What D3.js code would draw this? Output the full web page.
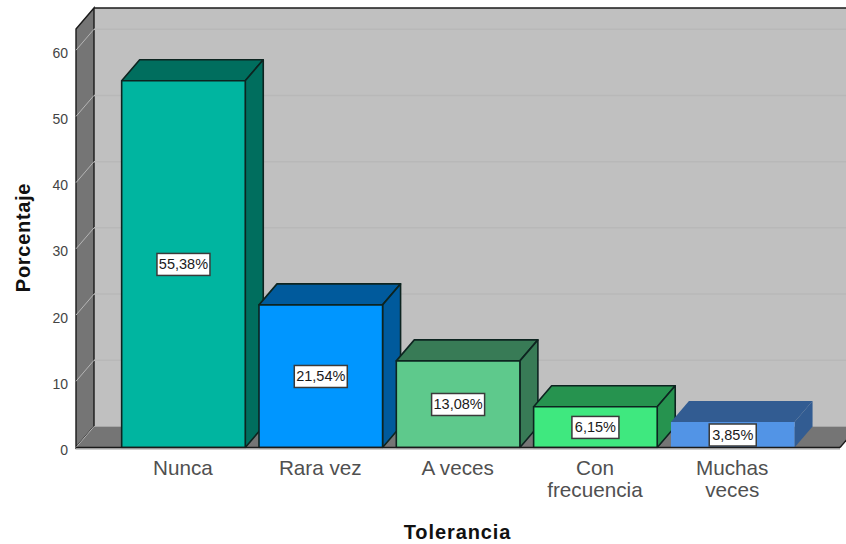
<!DOCTYPE html>
<html><head><meta charset="utf-8">
<script src="https://cdn.jsdelivr.net/npm/d3@7"></script>
<style>html,body{margin:0;padding:0;background:#fff;overflow:hidden}svg{display:block;font-family:"Liberation Sans",Arial,sans-serif}</style>
</head><body><svg id="c" width="846" height="544"></svg>
<script>
const categories = ["Nunca","Rara vez","A veces","Con frecuencia","Muchas veces"];
const categoryLines = [["Nunca"],["Rara vez"],["A veces"],["Con","frecuencia"],["Muchas","veces"]];
const values = [55.38,21.54,13.08,6.15,3.85];
const valueLabels = ["55,38%","21,54%","13,08%","6,15%","3,85%"];
const frontColors = ["#00b5a0","#0096ff","#5ec98c","#3fe87f","#5294e6"];
const sideColors = ["#006e5e","#005a9c","#387b56","#26934f","#325c92"];
const barOutlines = ["#0d2420","#0d2420","#0d2420","#0d2420","none"];
const yTicks = [0,10,20,30,40,50,60];

const svg = d3.select("#c");
const dx = 18, dy = -21;
const y = d3.scaleLinear().domain([0,63.2]).range([447.5,29]);
const x = d3.scaleBand().domain(categories).range([114.8,801.4]).paddingInner(0.1).paddingOuter(0.05);
const xL = 76, xR = 840, y0 = y(0), yT = y(63.2);
const pts = a => a.map(p=>p.join(",")).join(" ");
const stroke = "#1a1a1a";

// walls
svg.append("polygon").attr("points",pts([[xL+dx,yT+dy],[860,yT+dy],[860,y0+dy],[xL+dx,y0+dy]])).attr("fill","#c0c0c0");
svg.append("polygon").attr("points",pts([[xL,yT],[xL+dx,yT+dy],[xL+dx,y0+dy],[xL,y0]])).attr("fill","#757575").attr("stroke",stroke).attr("stroke-width",1.4);
svg.append("polygon").attr("points",pts([[xL,y0],[xL+dx,y0+dy],[xR+dx,y0+dy],[xR,y0]])).attr("fill","#757575");
svg.append("line").attr("x1",xL+dx).attr("x2",846).attr("y1",yT+dy).attr("y2",yT+dy).attr("stroke",stroke).attr("stroke-width",1.4);

// grid
const grid = svg.append("g");
yTicks.forEach(t=>{
  grid.append("line").attr("x1",xL).attr("y1",y(t)).attr("x2",xL+dx).attr("y2",y(t)+dy).attr("stroke","#b5b5b5").attr("stroke-width",1);
  if(t>0) grid.append("line").attr("x1",xL+dx).attr("y1",y(t)+dy).attr("x2",846).attr("y2",y(t)+dy).attr("stroke","#b8b8b8").attr("stroke-width",1.5);
});
svg.append("line").attr("x1",xL+dx).attr("x2",846).attr("y1",y0+dy).attr("y2",y0+dy).attr("stroke","#a8a8a8").attr("stroke-width",1);

// bars
categories.forEach((c,i)=>{
  const l = x(c), r = l + x.bandwidth(), t = y(values[i]);
  const g = svg.append("g").attr("stroke",barOutlines[i]).attr("stroke-width",1.6).attr("stroke-linejoin","round");
  g.append("polygon").attr("points",pts([[l,t],[l+dx,t+dy],[r+dx,t+dy],[r,t]])).attr("fill",sideColors[i]);
  g.append("polygon").attr("points",pts([[r,t],[r+dx,t+dy],[r+dx,y0+dy],[r,y0]])).attr("fill",sideColors[i]);
  g.append("rect").attr("x",l).attr("y",t).attr("width",r-l).attr("height",y0-t).attr("fill",frontColors[i]);
});

// baseline over the bars
svg.append("line").attr("x1",xL).attr("x2",xR).attr("y1",y0+1.6).attr("y2",y0+1.6).attr("stroke","#bdbdbd").attr("stroke-width",1.5);
svg.append("line").attr("x1",xL).attr("x2",xR).attr("y1",y0).attr("y2",y0).attr("stroke",stroke).attr("stroke-width",1.4);
svg.append("line").attr("x1",xR).attr("x2",xR+dx).attr("y1",y0).attr("y2",y0+dy).attr("stroke",stroke).attr("stroke-width",1.4);

// value labels
categories.forEach((c,i)=>{
  const cx = x(c)+x.bandwidth()/2, cy = (y(values[i])+y0)/2 + 0.3;
  const w = valueLabels[i].length===6 ? 53 : 47, h = 22;
  const top = Math.min(cy-h/2, y0-h-1.5);
  svg.append("rect").attr("x",cx-w/2).attr("y",top).attr("width",w).attr("height",h)
    .attr("fill","#fff").attr("stroke","#3a3a3a").attr("stroke-width",1.5);
  svg.append("text").attr("x",cx).attr("y",top+h/2+5).attr("text-anchor","middle")
    .attr("font-size",14.5).attr("fill","#1a1a1a").text(valueLabels[i]);
});

// y axis
const ax = svg.append("g").attr("transform",`translate(${xL},0)`)
  .call(d3.axisLeft(y).tickValues(yTicks).tickFormat(d3.format("d")).tickSize(0).tickPadding(8));
ax.select(".domain").remove();
ax.selectAll("text").attr("font-size",14).attr("font-family","inherit").attr("fill","#444").attr("dy","0.5em");

// x labels
categories.forEach((c,i)=>{
  const t = svg.append("text").attr("text-anchor","middle").attr("font-size",20.7).attr("fill","#505050")
    .attr("transform",`translate(${x(c)+x.bandwidth()/2-0.5},475)`);
  categoryLines[i].forEach((s,j)=>t.append("tspan").attr("x",0).attr("y",j*22).text(s));
});

// titles
svg.append("text").attr("x",457.5).attr("y",539).attr("text-anchor","middle").attr("font-size",20).attr("letter-spacing",0.9).attr("font-weight","bold").attr("fill","#111").text("Tolerancia");
svg.append("text").attr("transform","translate(30,237.5) rotate(-90)").attr("text-anchor","middle").attr("font-size",20).attr("letter-spacing",0.7).attr("font-weight","bold").attr("fill","#111").text("Porcentaje");
</script></body></html>
